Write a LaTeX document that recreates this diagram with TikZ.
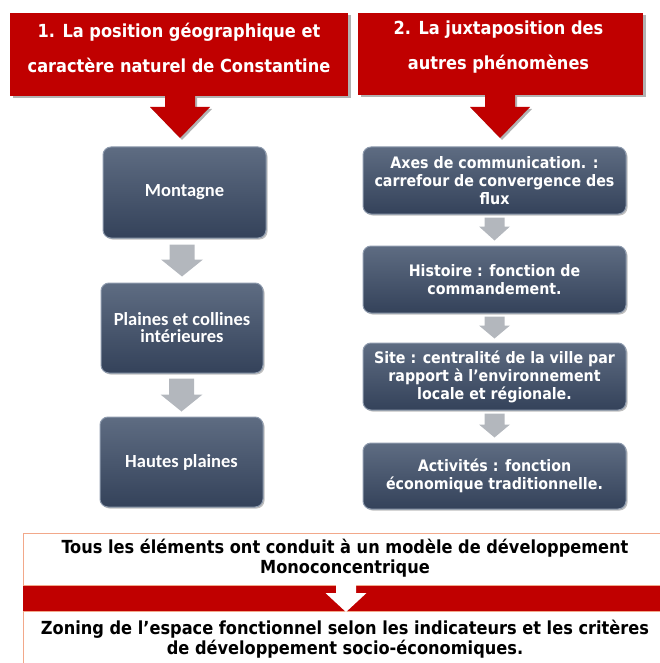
\documentclass[tikz,border=0pt]{standalone}
\usepackage{fontspec}
\setmainfont{DejaVu Sans Condensed}
\newfontfamily\boxfont{Carlito}
\usetikzlibrary{shadows,calc}

\definecolor{hdred}{HTML}{C00000}
\definecolor{slatetop}{HTML}{5E6C82}
\definecolor{slatebot}{HTML}{34425A}
\definecolor{slaterim}{HTML}{8D9AAD}
\definecolor{flowgray}{HTML}{B3B7BD}
\definecolor{bandedge}{HTML}{F2A88A}

% block arrow pointing down: style, top point, tip point, shaft half width, head half width, head length
\newcommand{\flowarrow}[6]{%
  \fill[#1] let \p1=(#2), \p2=(#3) in
    (\x2-#4pt,\y1) -- (\x2+#4pt,\y1) -- (\x2+#4pt,\y2+#6pt) -- (\x2+#5pt,\y2+#6pt)
    -- (\x2,\y2) -- (\x2-#5pt,\y2+#6pt) -- (\x2-#4pt,\y2+#6pt) -- cycle;}

\tikzset{
  header/.style={fill=hdred, inner sep=0pt,
    drop shadow={shadow xshift=2.5pt, shadow yshift=-2.5pt, fill=black, opacity=0.3}},
  headtext/.style={text=white, align=center, inner sep=0pt,
    font=\bfseries\fontsize{18pt}{35pt}\selectfont},
  slatebox/.style={rounded corners=8pt, top color=slatetop, bottom color=slatebot,
    draw=slaterim, line width=1pt, text=white, align=center, inner sep=0pt,
    drop shadow={shadow xshift=1.5pt, shadow yshift=-1.5pt, fill=black, opacity=0.25}},
  lefttext/.style={font=\boxfont\bfseries\fontsize{18.5pt}{17pt}\selectfont},
  righttext/.style={font=\bfseries\fontsize{15.8pt}{18pt}\selectfont},
  bottomtext/.style={align=center, inner sep=0pt, font=\bfseries\fontsize{18pt}{20pt}\selectfont},
  redarrow/.style={fill=hdred, drop shadow={shadow xshift=2pt, shadow yshift=-2pt, fill=black, opacity=0.3}},
  grayarrow/.style={fill=flowgray},
  whitearrow/.style={fill=white},
}

\begin{document}
\begin{tikzpicture}[x=1pt, y=-1pt]
\useasboundingbox (0,0) rectangle (660,663);

% headers
\node[header, minimum width=338pt, minimum height=83pt] (h1) at (179,54.5) {};
\node[header, minimum width=285pt, minimum height=82pt] (h2) at (500.5,54) {};
\node[headtext] (h1t) at ($(h1.center)+(0,-7)$)
  {1. La position géographique et\\caractère naturel de Constantine};
\node[headtext] (h2t) at ($(h2.center)+(-2,-7)$)
  {2. La juxtaposition des\\autres phénomènes};

\coordinate (t1) at (180,138);
\coordinate (t2) at (500,138);
\flowarrow{redarrow}{h1.south}{t1}{15}{30}{31}
\flowarrow{redarrow}{h2.south}{t2}{15}{30}{31}

% left column
\node[slatebox, lefttext, minimum width=163pt, minimum height=91pt] (m1) at (184.5,192.5) {Montagne};
\node[slatebox, lefttext, minimum width=162pt, minimum height=90pt] (m2) at (182,328) {Plaines et collines\\intérieures};
\node[slatebox, lefttext, minimum width=163pt, minimum height=90pt] (m3) at (181.5,462) {Hautes plaines};

\flowarrow{grayarrow}{$(m1.south)+(0,6)$}{$(m2.north)+(0,-6)$}{12.5}{21}{17}
\flowarrow{grayarrow}{$(m2.south)+(0,5)$}{$(m3.north)+(0,-5)$}{12.5}{21}{17}

% right column
\node[slatebox, righttext, minimum width=263pt, minimum height=67pt] (r1) at (494.5,180.5)
  {Axes de communication. :\\carrefour de convergence des\\flux};
\node[slatebox, righttext, minimum width=263pt, minimum height=67pt] (r2) at (494.5,279.5)
  {Histoire : fonction de\\commandement.};
\node[slatebox, righttext, minimum width=263pt, minimum height=67pt] (r3) at (494.5,376.5)
  {Site : centralité de la ville par\\rapport à l’environnement\\locale et régionale.};
\node[slatebox, righttext, minimum width=263pt, minimum height=66pt] (r4) at (494.5,476)
  {Activités : fonction\\économique traditionnelle.};

\flowarrow{grayarrow}{$(r1.south)+(0,3)$}{$(r2.north)+(0,-5)$}{10}{15.5}{14}
\flowarrow{grayarrow}{$(r2.south)+(0,3)$}{$(r3.north)+(0,-4)$}{10}{15.5}{13}
\flowarrow{grayarrow}{$(r3.south)+(0,3)$}{$(r4.north)+(0,-5)$}{10}{15.5}{13}

% conclusion band
\draw[bandedge, line width=0.8pt] (23,533) rectangle (667,680);
\fill[hdred] (23,585) rectangle (667,611);
\draw[bandedge, line width=0.6pt] (23,585) -- (667,585) (23,611) -- (667,611);
\coordinate (bt) at (346,585);
\coordinate (bb) at (346,612);
\flowarrow{whitearrow}{bt}{bb}{10}{20.5}{19}

\node[bottomtext] (c1) at (345,558)
  {Tous les éléments ont conduit à un modèle de développement\\Monoconcentrique};
\node[bottomtext] (c2) at (345,639)
  {Zoning de l’espace fonctionnel selon les indicateurs et les critères\\de développement socio-économiques.};
\end{tikzpicture}
\end{document}
